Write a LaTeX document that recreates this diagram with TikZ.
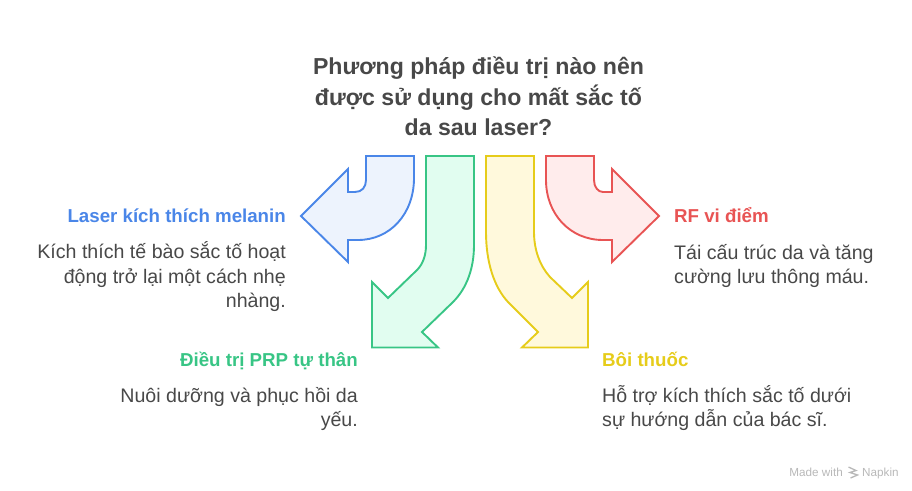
\documentclass[tikz,border=0pt]{standalone}
\usepackage{fontspec}
\setmainfont{Liberation Sans}
\definecolor{ttl}{HTML}{484848}
\definecolor{body}{HTML}{484848}
\definecolor{blueL}{HTML}{4A86E8}\definecolor{blueF}{HTML}{EDF3FD}
\definecolor{greenL}{HTML}{38C585}\definecolor{greenF}{HTML}{E1FDF0}
\definecolor{yelL}{HTML}{E6CC1A}\definecolor{yelF}{HTML}{FFF9DC}
\definecolor{redL}{HTML}{E85454}\definecolor{redF}{HTML}{FFECEC}
\definecolor{wmark}{HTML}{B8B8B8}
\tikzset{
 arrowshape/.style={line width=1.9pt,line join=miter},
 titletext/.style={inner sep=0pt,align=center,font=\fontsize{23.1}{30.5}\selectfont\bfseries,text=ttl},
 headtext/.style={inner sep=0pt,font=\fontsize{18.7}{24.5}\selectfont\bfseries},
 bodytext/.style={inner sep=0pt,text=body,font=\fontsize{19.6}{24.5}\selectfont},
 marktext/.style={inner sep=0pt,text=wmark,font=\fontsize{11.7}{14}\selectfont},
}
\begin{document}
\begin{tikzpicture}[x=1pt,y=-1pt]
\useasboundingbox (0,0) rectangle (912,490);
\draw[arrowshape,draw=blueL,fill=blueF] (366,156)--(414,156)--(414,178) .. controls (414,214) and (390,240) .. (358,240)--(348,240)--(348,262)--(301,216)--(348,169)--(348,192)--(355,192) .. controls (362,192) and (366,187) .. (366,180)--cycle;
\draw[arrowshape,draw=greenL,fill=greenF] (426,156)--(474,156)--(474,245) .. controls (474,268) and (467,288) .. (453,302)--(422,332)--(438,347.5)--(372,347.5)--(372,282)--(388,298)--(417,270) .. controls (423,264) and (426,255) .. (426,245)--cycle;
\draw[arrowshape,draw=yelL,fill=yelF] (486,156)--(534,156)--(534,232) .. controls (534,250) and (540,266) .. (550,277)--(572,298)--(588,282)--(588,347.5)--(522,347.5)--(538,332)--(508,302) .. controls (494,287) and (486,262) .. (486,232)--cycle;
\draw[arrowshape,draw=redL,fill=redF] (546,156)--(594,156)--(594,180) .. controls (594,187) and (598,192) .. (603,192)--(612,192)--(612,169)--(659,216)--(612,262)--(612,240)--(603,240) .. controls (570,240) and (546,214) .. (546,180)--cycle;
\node[titletext,anchor=base] (title) at (478.5,135.5) {Phương pháp điều trị nào nên\\được sử dụng cho mất sắc tố\\da sau laser?};
\node[headtext,text=blueL,anchor=base east] (h1) at (286,222.5) {Laser kích thích melanin};
\node[bodytext,align=right,anchor=base east] (b1) at (286,307.5) {Kích thích tế bào sắc tố hoạt\\động trở lại một cách nhẹ\\nhàng.};
\node[headtext,text=greenL,anchor=base east] (h2) at (358,366) {Điều trị PRP tự thân};
\node[bodytext,align=right,anchor=base east] (b2) at (358,426.5) {Nuôi dưỡng và phục hồi da\\yếu.};
\node[headtext,text=yelL,anchor=base west] (h3) at (602,366) {Bôi thuốc};
\node[bodytext,align=left,anchor=base west] (b3) at (602,426.5) {Hỗ trợ kích thích sắc tố dưới\\sự hướng dẫn của bác sĩ.};
\node[headtext,text=redL,anchor=base west] (h4) at (674,222.5) {RF vi điểm};
\node[bodytext,align=left,anchor=base west] (b4) at (674,283.5) {Tái cấu trúc da và tăng\\cường lưu thông máu.};
\node[marktext,anchor=base east] (wm1) at (843,476) {Made with};
\node[marktext,anchor=base west] (wm2) at (862,476) {Napkin};
\draw[wmark,line width=1.3pt] (848.5,467)--(856,470.5)--(850,472.5)--(857.5,475)--(850.5,478);
\end{tikzpicture}
\end{document}
